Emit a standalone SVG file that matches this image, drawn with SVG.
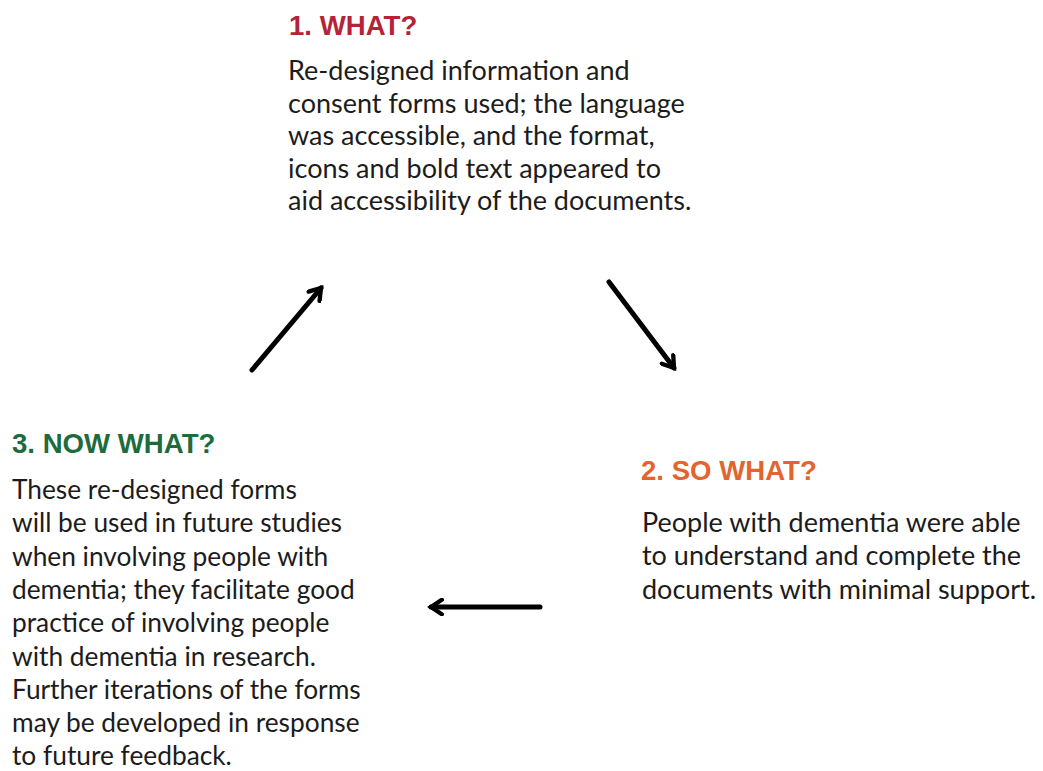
<svg xmlns="http://www.w3.org/2000/svg" width="1043" height="771" viewBox="0 0 1043 771">
  <style>
    .head { font-family: "Liberation Sans", Arial, sans-serif; font-weight: bold; font-size: 27.6px; }
    .body { font-family: Lato, "Open Sans", sans-serif; font-size: 27px; fill: #1c1c1c; }
    .body.narrow { font-size: 26.3px; }
    .arrow { stroke: #000; stroke-width: 5; fill: none; stroke-linecap: round; marker-end: url(#chev); }
  </style>
  <defs>
    <marker id="chev" viewBox="0 0 10 10" refX="8" refY="5" markerWidth="3.6" markerHeight="3.6" orient="auto" markerUnits="strokeWidth">
      <path d="M2,1 L8,5 L2,9" fill="none" stroke="#000" stroke-width="2.4" stroke-linecap="round" stroke-linejoin="miter"/>
    </marker>
  </defs>
  <rect width="1043" height="771" fill="#fff"/>

  <!-- Step 1: What? -->
  <g id="what">
    <text class="head" x="289" y="34.5" fill="#b42437">1. WHAT?</text>
    <text class="body" x="288" y="80">Re-designed information and</text>
    <text class="body" x="288" y="112.5">consent forms used; the language</text>
    <text class="body" x="288" y="145">was accessible, and the format,</text>
    <text class="body" x="288" y="177.5">icons and bold text appeared to</text>
    <text class="body" x="288" y="210">aid accessibility of the documents.</text>
  </g>

  <!-- Step 2: So what? -->
  <g id="so-what">
    <text class="head" x="641" y="480" fill="#e2642f">2. SO WHAT?</text>
    <text class="body" x="642" y="532">People with dementia were able</text>
    <text class="body" x="642" y="565">to understand and complete the</text>
    <text class="body" x="642" y="599">documents with minimal support.</text>
  </g>

  <!-- Step 3: Now what? -->
  <g id="now-what">
    <text class="head" x="12" y="453" fill="#1e6b3d">3. NOW WHAT?</text>
    <text class="body narrow" x="12" y="499">These re-designed forms</text>
    <text class="body narrow" x="12" y="532">will be used in future studies</text>
    <text class="body narrow" x="12" y="565.5">when involving people with</text>
    <text class="body narrow" x="12" y="599">dementia; they facilitate good</text>
    <text class="body narrow" x="12" y="632">practice of involving people</text>
    <text class="body narrow" x="12" y="665.5">with dementia in research.</text>
    <text class="body narrow" x="12" y="699">Further iterations of the forms</text>
    <text class="body narrow" x="12" y="732">may be developed in response</text>
    <text class="body narrow" x="12" y="765">to future feedback.</text>
  </g>

  <!-- Cycle connectors -->
  <g id="connectors">
    <line class="arrow" x1="609" y1="282" x2="674" y2="368"/>
    <line class="arrow" x1="540" y1="607" x2="431" y2="607"/>
    <line class="arrow" x1="252" y1="370" x2="321" y2="288"/>
  </g>
</svg>
